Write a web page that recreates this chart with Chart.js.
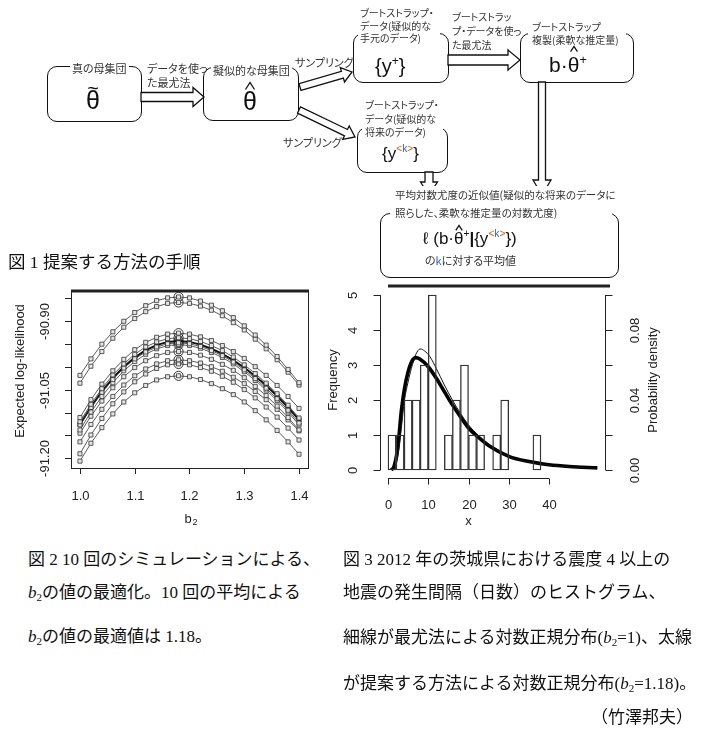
<!DOCTYPE html>
<html lang="ja">
<head>
<meta charset="utf-8">
<title>提案する方法の手順</title>
<script src="https://cdn.jsdelivr.net/npm/chart.js@4.4.1/dist/chart.umd.min.js"></script>
<style>
html, body { margin: 0; padding: 0; background: #fff; }
body { position: relative; width: 705px; height: 732px; overflow: hidden; color: #111;
  font-family: "Noto Sans CJK JP", "Noto Sans", sans-serif; }
.t { position: absolute; white-space: nowrap; z-index: 3; }
.s { font-size: 10px; line-height: 12px; font-feature-settings: "palt"; color: #333; }
.wb { background: #fff; }
.box { position: absolute; box-sizing: border-box; border: 1.6px solid #111; border-radius: 10px; background: #fff; z-index: 1; }
.m { font-family: "Liberation Sans", Arial, sans-serif; color: #111; }
.hw { position: relative; display: inline-block; }
.hs { position: absolute; left: 50%; transform: translateX(-50%); overflow: visible; }
.tl { position: absolute; left: 0; right: 0; text-align: center; font-size: 0.8em; line-height: 1; top: -0.42em; }
.sp { font-size: 0.6em; vertical-align: 0.65em; line-height: 0; }
.ko { color: #e0600a; }
.kb { color: #2a5bd0; }
.cap { font-family: "Liberation Serif", "Noto Sans CJK JP", serif; font-size: 17px; line-height: 20px; color: #111; }
.cap i { font-family: "Liberation Serif", serif; }
.cap sub { font-size: 11px; vertical-align: -3px; line-height: 0; }
canvas { position: absolute; z-index: 0; }
#arrows { position: absolute; left: 0; top: 0; z-index: 2; }
</style>
</head>
<body>

<!-- flow diagram -->
<div class="box" style="left:47px;top:66px;width:95px;height:56px"></div>
<div class="box" style="left:203px;top:67px;width:96px;height:54px"></div>
<div class="box" style="left:353px;top:33px;width:96px;height:50px"></div>
<div class="box" style="left:520px;top:33px;width:114px;height:50px"></div>
<div class="box" style="left:357px;top:127px;width:91px;height:46px"></div>
<div class="box" style="left:380px;top:213px;width:239px;height:65px"></div>

<svg id="arrows" width="705" height="300"></svg>

<div class="t s wb" style="left:70px;top:62px;font-size:11px;line-height:13px;padding:0 2px">真の母集団</div>
<div class="t m" style="left:73px;top:86px;width:40px;text-align:center;font-size:25px;line-height:29px"><span class="hw">θ<span class="tl">~</span></span></div>

<div class="t s" style="left:147px;top:62px;font-size:11px;line-height:13px">データを使っ</div>
<div class="t s" style="left:147px;top:76px;font-size:11px;line-height:13px">た最尤法</div>

<div class="t s wb" style="left:211px;top:64px;font-size:11px;line-height:13px;padding:0 2px">擬似的な母集団</div>
<div class="t m" style="left:230px;top:87px;width:40px;text-align:center;font-size:25px;line-height:29px"><span class="hw">θ<svg class="hs" viewBox="0 0 10 8" style="width:0.52em;height:0.32em;top:-0.2em"><polyline points="0.5,7.5 5,0.5 9.5,7.5" fill="none" stroke="#111" stroke-width="1.3" vector-effect="non-scaling-stroke"/></svg></span></div>

<div class="t s" style="left:295px;top:56px;font-size:11px;line-height:13px">サンプリング</div>
<div class="t s" style="left:283px;top:136px;font-size:11px;line-height:13px">サンプリング</div>

<div class="t s wb" style="left:358px;top:7px;width:80px;padding-left:2px;line-height:12.5px">ブートストラップ・<br>データ(疑似的な<br>手元のデータ)</div>
<div class="t m" style="left:375px;top:54px;font-size:20px;line-height:24px">{y<span class="sp">+</span>}</div>

<div class="t s" style="left:452px;top:10px;line-height:14px">ブートストラッ<br>プ・データを使っ<br>た最尤法</div>

<div class="t s wb" style="left:528px;top:20px;width:94px;padding-left:4px;line-height:13px">ブートストラップ<br>複製(柔軟な推定量)</div>
<div class="t m" style="left:549px;top:53px;font-size:21px;line-height:24px">b·<span class="hw">θ<svg class="hs" viewBox="0 0 10 8" style="width:0.4em;height:0.29em;top:-0.33em"><polyline points="0.5,7.5 5,0.5 9.5,7.5" fill="none" stroke="#111" stroke-width="1.3" vector-effect="non-scaling-stroke"/></svg></span><span class="sp">+</span></div>

<div class="t s wb" style="left:362px;top:98px;width:78px;padding-left:3px;line-height:13.5px">ブートストラップ・<br>データ(疑似的な<br>将来のデータ)</div>
<div class="t m" style="left:382px;top:144px;font-size:17px;line-height:20px">{y<span class="sp"><span class="ko">&lt;</span><span class="kb">k</span><span class="ko">&gt;</span></span>}</div>

<div class="t s wb" style="left:390px;top:186px;width:222px;box-sizing:border-box;padding-left:5px;font-size:10.5px;line-height:18px">平均対数尤度の近似値(疑似的な将来のデータに<br>照らした、柔軟な推定量の対数尤度)</div>
<div class="t m" style="left:423px;top:229px;font-size:17px;line-height:20px">ℓ (b·<span class="hw">θ<svg class="hs" viewBox="0 0 10 8" style="width:0.42em;height:0.35em;top:-0.24em"><polyline points="0.5,7.5 5,0.5 9.5,7.5" fill="none" stroke="#111" stroke-width="1.3" vector-effect="non-scaling-stroke"/></svg></span><span class="sp">+</span><b>|</b>{y<span class="sp"><span class="ko">&lt;</span><span class="kb">k</span><span class="ko">&gt;</span></span>})</div>
<div class="t s" style="left:425px;top:254px;font-size:11px;line-height:13px">の<span class="kb">k</span>に対する平均値</div>

<div class="t cap" style="left:8px;top:252px;font-size:17.5px">図 1 提案する方法の手順</div>

<!-- charts -->
<canvas id="simChart" width="330" height="250" style="left:0;top:280px"></canvas>
<canvas id="histChart" width="387" height="250" style="left:318px;top:280px"></canvas>

<!-- captions -->
<div class="t cap" style="left:28px;top:550px">図 2 10 回のシミュレーションによる、</div>
<div class="t cap" style="left:28px;top:583px"><i>b</i><sub>2</sub>の値の最適化。10 回の平均による</div>
<div class="t cap" style="left:28px;top:627px"><i>b</i><sub>2</sub>の値の最適値は 1.18。</div>

<div class="t cap" style="left:343px;top:550px">図 3 2012 年の茨城県における震度 4 以上の</div>
<div class="t cap" style="left:343px;top:583px">地震の発生間隔（日数）のヒストグラム、</div>
<div class="t cap" style="left:343px;top:628px">細線が最尤法による対数正規分布(<i>b</i><sub>2</sub>=1)、太線</div>
<div class="t cap" style="left:343px;top:674px">が提案する方法による対数正規分布(<i>b</i><sub>2</sub>=1.18)。</div>
<div class="t cap" style="right:12px;top:708px">（竹澤邦夫）</div>

<script>
// Fig.2 : expected log-likelihood against b2, 10 simulations + their mean
var b2Values = [1.00, 1.02, 1.04, 1.06, 1.08, 1.10, 1.12, 1.14, 1.16, 1.18, 1.20, 1.22, 1.24, 1.26, 1.28, 1.30, 1.32, 1.34, 1.36, 1.38, 1.40]
var sim1 = [-91.019, -90.983, -90.951, -90.924, -90.901, -90.882, -90.867, -90.856, -90.850, -90.848, -90.850, -90.857, -90.866, -90.878, -90.893, -90.911, -90.931, -90.953, -90.978, -91.006, -91.035]
var sim2 = [-91.036, -90.999, -90.967, -90.938, -90.914, -90.895, -90.880, -90.869, -90.862, -90.860, -90.862, -90.868, -90.877, -90.889, -90.904, -90.920, -90.940, -90.961, -90.985, -91.012, -91.040]
var sim3 = [-91.111, -91.072, -91.038, -91.009, -90.984, -90.963, -90.947, -90.936, -90.929, -90.927, -90.929, -90.935, -90.943, -90.954, -90.967, -90.982, -91.000, -91.019, -91.041, -91.065, -91.091]
var sim4 = [-91.120, -91.082, -91.048, -91.018, -90.994, -90.973, -90.957, -90.946, -90.939, -90.937, -90.939, -90.945, -90.954, -90.965, -90.979, -90.996, -91.015, -91.036, -91.059, -91.084, -91.112]
var sim5 = [-91.127, -91.089, -91.056, -91.028, -91.003, -90.983, -90.968, -90.957, -90.950, -90.948, -90.950, -90.956, -90.965, -90.976, -90.990, -91.007, -91.026, -91.047, -91.070, -91.095, -91.123]
var sim6 = [-91.138, -91.099, -91.065, -91.035, -91.009, -90.989, -90.973, -90.961, -90.954, -90.952, -90.954, -90.960, -90.969, -90.980, -90.994, -91.011, -91.030, -91.051, -91.074, -91.099, -91.127]
var sim7 = [-91.145, -91.108, -91.075, -91.046, -91.022, -91.002, -90.987, -90.976, -90.969, -90.967, -90.969, -90.975, -90.984, -90.995, -91.008, -91.024, -91.043, -91.063, -91.086, -91.111, -91.138]
var sim8 = [-91.164, -91.126, -91.093, -91.065, -91.040, -91.020, -91.005, -90.994, -90.987, -90.985, -90.987, -90.992, -91.000, -91.010, -91.023, -91.037, -91.054, -91.072, -91.093, -91.116, -91.140]
var sim9 = [-91.190, -91.149, -91.113, -91.081, -91.055, -91.033, -91.016, -91.004, -90.996, -90.994, -90.996, -91.002, -91.010, -91.021, -91.034, -91.050, -91.068, -91.088, -91.110, -91.134, -91.160]
var sim10 = [-91.206, -91.167, -91.133, -91.103, -91.077, -91.057, -91.041, -91.029, -91.022, -91.020, -91.022, -91.028, -91.037, -91.048, -91.061, -91.077, -91.096, -91.116, -91.139, -91.164, -91.191]
var simMean = [-91.126, -91.088, -91.054, -91.025, -91.000, -90.980, -90.964, -90.953, -90.946, -90.944, -90.946, -90.952, -90.961, -90.972, -90.986, -91.002, -91.021, -91.041, -91.064, -91.089, -91.116]
var bestB2 = 1.18
var simXTicks = [1.0, 1.1, 1.2, 1.3, 1.4]
var simYTicks = [-91.20, -91.15, -91.10, -91.05, -91.00, -90.95, -90.90, -90.85]
var simYLabels = [-91.20, -91.05, -90.90]

// Fig.3 : histogram of intervals (days) and two log-normal densities
var binMids = [1, 3, 5, 7, 9, 11, 13, 15, 17, 19, 21, 23, 25, 27, 29, 31, 33, 35, 37]
var binCounts = [1, 1, 2, 2, 3, 5, 0, 1, 2, 3, 1, 1, 0, 1, 2, 0, 0, 0, 1]
var mleX = [1.2, 2, 2.5, 3.3, 4.1, 5, 5.8, 6.9, 8, 9.1, 10.4, 12, 14, 16, 18, 20, 22.5, 25, 30, 35, 40, 45, 52]
var mleDensity = [0, 0.003, 0.0086, 0.0238, 0.040, 0.0504, 0.058, 0.066, 0.0692, 0.068, 0.0648, 0.058, 0.0486, 0.040, 0.0324, 0.0258, 0.0196, 0.0144, 0.0078, 0.0046, 0.0028, 0.0018, 0.001]
var propX = [0.8, 1.5, 2.5, 3.3, 4.1, 5, 5.8, 6.9, 7.9, 10, 12, 14, 16, 18, 20, 22.5, 25, 30, 35, 40, 45, 52]
var propDensity = [0, 0.002, 0.0142, 0.0334, 0.0466, 0.0562, 0.0616, 0.0642, 0.0634, 0.059, 0.0524, 0.0448, 0.0372, 0.0304, 0.024, 0.0186, 0.014, 0.0078, 0.0048, 0.003, 0.002, 0.0012]
var histXTicks = [0, 10, 20, 30, 40]
var freqTicks = [0, 1, 2, 3, 4, 5]
var densTicks = [0, 0.02, 0.04, 0.06, 0.08, 0.10]
var densLabels = [0, 0.04, 0.08]

var axisFont = '13px "Liberation Sans", Arial, sans-serif'
var ink = '#222'

function seg(ctx, x1, y1, x2, y2) {
    ctx.beginPath()
    ctx.moveTo(x1, y1)
    ctx.lineTo(x2, y2)
    ctx.stroke()
}

function upText(ctx, txt, x, y) {
    ctx.save()
    ctx.translate(x, y)
    ctx.rotate(-Math.PI / 2)
    ctx.textAlign = 'center'
    ctx.textBaseline = 'middle'
    ctx.fillText(txt, 0, 0)
    ctx.restore()
}

function hasLabel(list, v) {
    return list.some(function (l) { return Math.abs(l - v) < 1e-9 })
}

function xy(xs, ys) {
    return xs.map(function (x, i) { return {x: x, y: ys[i]} })
}

// ---- flow diagram arrows (hollow block arrows)
function arrowPoints(x1, y1, x2, y2, w, hw, hl) {
    var dx = x2 - x1, dy = y2 - y1, len = Math.sqrt(dx * dx + dy * dy)
    var ux = dx / len, uy = dy / len, nx = -uy, ny = ux
    var bx = x2 - ux * hl, by = y2 - uy * hl
    var pts = [[x1 + nx * w, y1 + ny * w], [bx + nx * w, by + ny * w], [bx + nx * hw, by + ny * hw], [x2, y2],
        [bx - nx * hw, by - ny * hw], [bx - nx * w, by - ny * w], [x1 - nx * w, y1 - ny * w]]
    return pts.map(function (p) { return p[0].toFixed(1) + ',' + p[1].toFixed(1) }).join(' ')
}
var flowArrows = [
    [141, 97, 204, 97, 4.5, 9.5, 11],
    [300, 87, 352, 72, 3.5, 7.5, 10],
    [299, 110, 355, 137, 3.5, 7.5, 10],
    [448, 60, 520, 60, 5, 10, 12],
    [542, 82, 542, 195, 3.5, 9, 15],
    [429, 172, 429, 195, 4, 8.5, 13]
]
var svg = document.getElementById('arrows')
svg.innerHTML = flowArrows.map(function (a) {
    return '<polygon points="' + arrowPoints(a[0], a[1], a[2], a[3], a[4], a[5], a[6]) +
        '" fill="#fff" stroke="#111" stroke-width="1.3" stroke-linejoin="miter"/>'
}).join('')

// ---- Fig.2
var simRuns = [sim1, sim2, sim3, sim4, sim5, sim6, sim7, sim8, sim9, sim10]
var bestIdx = b2Values.indexOf(bestB2)
var simSets = simRuns.map(function (run) {
    return {
        data: xy(b2Values, run),
        borderColor: '#333',
        borderWidth: 0.8,
        pointStyle: 'rect',
        pointRadius: 2.9,
        pointBorderWidth: 0.8,
        pointBorderColor: '#333',
        pointBackgroundColor: '#e4e4e4'
    }
})
simSets.push({
    data: xy(b2Values, simMean),
    borderColor: '#111',
    borderWidth: 2,
    pointStyle: 'rect',
    pointRadius: 2.9,
    pointBorderWidth: 0.8,
    pointBorderColor: '#111',
    pointBackgroundColor: '#111'
})
simSets.push({
    data: simRuns.concat([simMean]).map(function (run) { return {x: bestB2, y: run[bestIdx]} }),
    showLine: false,
    pointStyle: 'circle',
    pointRadius: 4.6,
    pointBorderWidth: 0.9,
    pointBorderColor: '#222',
    pointBackgroundColor: 'rgba(0,0,0,0)'
})

var simAxes = {
    id: 'simAxes',
    afterDraw: function (chart) {
        var ctx = chart.ctx, a = chart.chartArea, sx = chart.scales.x, sy = chart.scales.y
        ctx.save()
        ctx.strokeStyle = ink
        ctx.fillStyle = ink
        ctx.lineWidth = 1
        ctx.strokeRect(a.left + 0.5, a.top + 0.5, a.right - a.left, a.bottom - a.top)
        ctx.lineWidth = 3
        seg(ctx, a.left, a.top, a.right + 1, a.top)
        ctx.lineWidth = 1
        ctx.font = axisFont
        ctx.textAlign = 'center'
        ctx.textBaseline = 'middle'
        simXTicks.forEach(function (v) {
            var px = Math.round(sx.getPixelForValue(v)) + 0.5
            seg(ctx, px, a.bottom, px, a.bottom + 6)
            ctx.fillText(v.toFixed(1), px, a.bottom + 28)
        })
        simYTicks.forEach(function (v) {
            var py = Math.round(sy.getPixelForValue(v)) + 0.5
            seg(ctx, a.left - 6, py, a.left, py)
            if (hasLabel(simYLabels, v)) upText(ctx, v.toFixed(2), a.left - 26, py)
        })
        upText(ctx, 'Expected log-likelihood', 20, 91)
        ctx.fillText('b', 188, 239)
        ctx.font = '9px "Liberation Sans", Arial, sans-serif'
        ctx.fillText('2', 195, 243)
        ctx.restore()
    }
}

new Chart(document.getElementById('simChart').getContext('2d'), {
    type: 'line',
    data: { datasets: simSets },
    options: {
        responsive: false,
        animation: false,
        devicePixelRatio: 1,
        layout: { padding: { left: 71, top: 11, right: 22, bottom: 62 } },
        scales: {
            x: { type: 'linear', min: 0.9836, max: 1.4164, display: false },
            y: { type: 'linear', min: -91.221, max: -90.835, display: false }
        },
        plugins: { legend: { display: false }, tooltip: { enabled: false } }
    },
    plugins: [simAxes]
})

// ---- Fig.3
var histAxes = {
    id: 'histAxes',
    afterDraw: function (chart) {
        var ctx = chart.ctx, a = chart.chartArea, sx = chart.scales.x, sy = chart.scales.y, sy2 = chart.scales.y2
        ctx.save()
        ctx.strokeStyle = ink
        ctx.fillStyle = ink
        ctx.font = axisFont
        ctx.lineWidth = 3
        seg(ctx, sx.getPixelForValue(0), a.top - 9, a.right + 5, a.top - 9)
        ctx.lineWidth = 1
        // frequency axis
        var xl = Math.round(a.left) + 0.5
        seg(ctx, xl, sy.getPixelForValue(0), xl, sy.getPixelForValue(5))
        freqTicks.forEach(function (v) {
            var py = Math.round(sy.getPixelForValue(v)) + 0.5
            seg(ctx, xl - 7, py, xl, py)
            upText(ctx, String(v), xl - 27, py)
        })
        upText(ctx, 'Frequency', 15, 380 - 280)
        // x axis
        var yb = Math.round(a.bottom + 8) + 0.5
        seg(ctx, sx.getPixelForValue(0), yb, sx.getPixelForValue(40), yb)
        ctx.textAlign = 'center'
        ctx.textBaseline = 'middle'
        histXTicks.forEach(function (v) {
            var px = Math.round(sx.getPixelForValue(v)) + 0.5
            seg(ctx, px, yb, px, yb + 6)
            ctx.fillText(String(v), px, a.bottom + 35)
        })
        ctx.fillText('x', sx.getPixelForValue(20), a.bottom + 51)
        // density axis
        var xr = Math.round(a.right) + 0.5
        seg(ctx, xr, sy2.getPixelForValue(0), xr, sy2.getPixelForValue(0.10))
        densTicks.forEach(function (v) {
            var py = Math.round(sy2.getPixelForValue(v)) + 0.5
            seg(ctx, xr, py, xr + 7, py)
            if (hasLabel(densLabels, v)) upText(ctx, v.toFixed(2), xr + 30, py)
        })
        upText(ctx, 'Probability density', xr + 48, 380 - 280)
        ctx.restore()
    }
}

new Chart(document.getElementById('histChart').getContext('2d'), {
    type: 'bar',
    data: {
        datasets: [{
            type: 'bar',
            data: xy(binMids, binCounts),
            yAxisID: 'y',
            backgroundColor: 'rgba(255,255,255,0)',
            borderColor: '#333',
            borderWidth: 0.7,
            borderSkipped: false,
            barPercentage: 1,
            categoryPercentage: 1,
            clip: 4
        }, {
            type: 'line',
            data: xy(mleX, mleDensity),
            yAxisID: 'y2',
            borderColor: '#111',
            borderWidth: 1,
            pointRadius: 0,
            cubicInterpolationMode: 'monotone',
            clip: 5
        }, {
            type: 'line',
            data: xy(propX, propDensity),
            yAxisID: 'y2',
            borderColor: '#000',
            borderWidth: 3.6,
            pointRadius: 0,
            cubicInterpolationMode: 'monotone',
            clip: 5
        }]
    },
    options: {
        responsive: false,
        animation: false,
        devicePixelRatio: 1,
        layout: { padding: { left: 62, top: 15, right: 100, bottom: 60 } },
        scales: {
            x: { type: 'linear', min: -1.988, max: 53.91, offset: false, display: false },
            y: { min: 0, max: 5, display: false },
            y2: { min: 0, max: 0.10, display: false, position: 'right' }
        },
        plugins: { legend: { display: false }, tooltip: { enabled: false } }
    },
    plugins: [histAxes]
})
</script>
</body>
</html>
